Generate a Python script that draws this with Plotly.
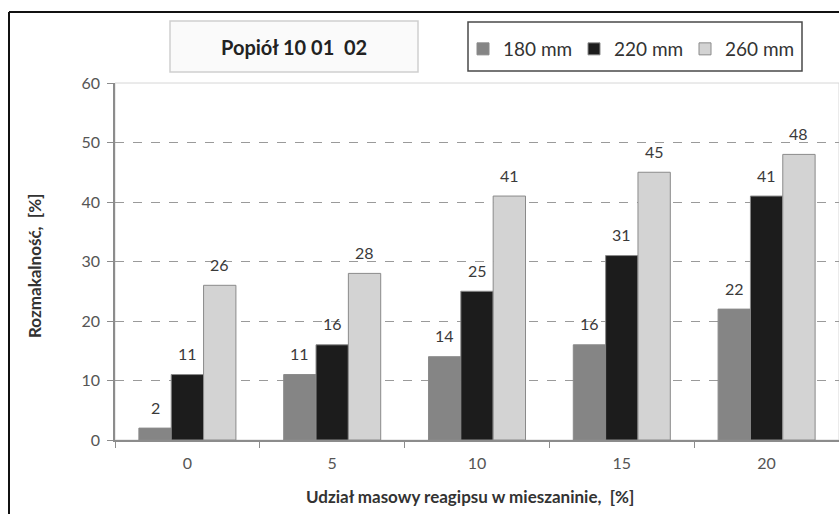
import plotly.graph_objects as go

# Gypsum share in the mix [%] and slaking results per specimen size
categories = ["0", "5", "10", "15", "20"]
series_names = ["180 mm", "220 mm", "260 mm"]
values_180 = [2, 11, 14, 16, 22]
values_220 = [11, 16, 25, 31, 41]
values_260 = [26, 28, 41, 45, 48]
y_ticks = [0, 10, 20, 30, 40, 50, 60]

series_values = [values_180, values_220, values_260]
bar_colors = ["#858585", "#1c1c1c", "#d3d3d3"]

W, H = 839, 514
ML, MR, MT, MB = 115, 0, 83, 74
plot_w = W - ML - MR
plot_h = H - MT - MB
BARGAP = 0.33
bar_px = plot_w / len(categories) * (1 - BARGAP) / len(series_names)

FONT = "Lato"

fig = go.Figure()
for name, vals, col in zip(series_names, series_values, bar_colors):
    fig.add_trace(go.Bar(
        x=categories, y=vals, name=name,
        marker=dict(color=col, line=dict(color="#8a8a8a", width=1)),
    ))

# value labels above each bar (category index used as x position)
annotations = []
for i, vals in enumerate(series_values):
    for k, v in enumerate(vals):
        annotations.append(dict(
            x=k, y=v, xref="x", yref="y", text=str(v), showarrow=False,
            xshift=(i - 1) * bar_px, yshift=21,
            xanchor="center", yanchor="middle",
            font=dict(family=FONT, size=16, color="#3a3a3a"),
        ))

def px_x(p):
    return (p - ML) / plot_w

def px_y(p):
    return (H - MB - p) / plot_h

# chart title inside its own box
annotations.append(dict(
    x=px_x(294), y=px_y(47), xref="paper", yref="paper",
    xanchor="center", yanchor="middle",
    text="<b>Popiół 10 01  02</b>", showarrow=False,
    font=dict(family=FONT, size=20, color="#222222"),
))
# axis titles
annotations.append(dict(
    x=px_x(470), y=px_y(497), xref="paper", yref="paper",
    xanchor="center", yanchor="middle",
    text="<b>Udział masowy reagipsu w mieszaninie,  [%]</b>", showarrow=False,
    font=dict(family=FONT, size=17, color="#333333"),
))
annotations.append(dict(
    x=px_x(34), y=px_y(266), xref="paper", yref="paper", textangle=-90,
    xanchor="center", yanchor="middle",
    text="<b>Rozmakalność,  [%]</b>", showarrow=False,
    font=dict(family=FONT, size=17, color="#333333"),
))

shapes = [
    # outer frame (left and top edges)
    dict(type="line", xref="paper", yref="paper",
         x0=px_x(9), y0=px_y(12), x1=px_x(9), y1=px_y(H + 5),
         line=dict(color="#111111", width=2)),
    dict(type="line", xref="paper", yref="paper",
         x0=px_x(9), y0=px_y(12), x1=px_x(W + 5), y1=px_y(12),
         line=dict(color="#111111", width=2)),
    # plot area outline
    dict(type="rect", xref="paper", yref="paper", x0=0, y0=0, x1=1, y1=1,
         line=dict(color="#d6d6d6", width=1), layer="below"),
    # title box
    dict(type="rect", xref="paper", yref="paper",
         x0=px_x(170), y0=px_y(72), x1=px_x(418), y1=px_y(21),
         line=dict(color="#cfcfcf", width=1.5), fillcolor="#fafafa", layer="below"),
    # legend box
    dict(type="rect", xref="paper", yref="paper",
         x0=px_x(468), y0=px_y(71), x1=px_x(802), y1=px_y(22),
         line=dict(color="#4a4a4a", width=1.5), fillcolor="rgba(0,0,0,0)"),
]

fig.update_layout(
    width=W, height=H,
    margin=dict(l=ML, r=MR, t=MT, b=MB, autoexpand=False),
    paper_bgcolor="white", plot_bgcolor="white",
    barmode="group", bargap=BARGAP, bargroupgap=0,
    showlegend=True,
    legend=dict(
        orientation="h", x=px_x(463), y=px_y(30), xanchor="left", yanchor="top",
        bgcolor="rgba(0,0,0,0)", borderwidth=0,
        font=dict(family=FONT, size=19, color="#333333"),
        entrywidth=66, entrywidthmode="pixels", itemwidth=30,
    ),
    font=dict(family=FONT),
    annotations=annotations,
    shapes=shapes,
    xaxis=dict(
        type="category", showgrid=False, showline=True, linecolor="#8c8c8c",
        linewidth=1.5, ticks="outside", tickson="boundaries", ticklen=6,
        tickcolor="#8c8c8c", tickfont=dict(family=FONT, size=16, color="#555555"),
        range=[-0.5, len(categories) - 0.5], ticklabelstandoff=8,
    ),
    yaxis=dict(
        range=[0, 60], tickvals=y_ticks, showline=True, linecolor="#8c8c8c",
        linewidth=1.5, ticks="outside", ticklen=6, tickcolor="#8c8c8c",
        showgrid=True, gridcolor="#9a9a9a", griddash="dash", gridwidth=1,
        zeroline=False, tickfont=dict(family=FONT, size=16, color="#555555"),
        ticklabelstandoff=4,
    ),
)

fig.write_html("out.html")
